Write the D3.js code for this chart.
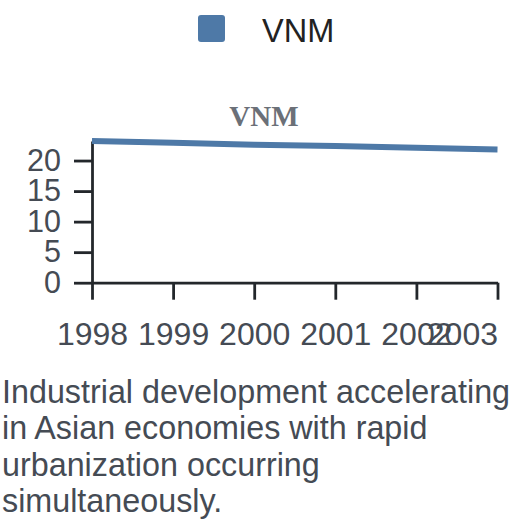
<!doctype html>
<html lang="en">
<head>
  <meta charset="utf-8">
  <title>VNM</title>
  <script src="https://cdn.jsdelivr.net/npm/d3@7"></script>
  <style>
    body { margin: 0; background: #fff; font-family: "Liberation Sans", Arial, sans-serif; }
    #chart { position: absolute; left: 0; top: 0; }
    #caption {
      position: absolute; left: 2px; top: 374px; width: 524px;
      font-size: 32.3px; line-height: 36.4px; color: #454b54;
    }
    .axis text { font-family: "Liberation Sans", Arial, sans-serif; font-size: 32px; fill: #454b54; }
    .axis.y text { font-size: 30.5px; }
    .axis path, .axis line { stroke: #23272b; stroke-width: 2.8; }
  </style>
</head>
<body>

<div id="chart"></div>
<div id="caption"></div>

<script>
// data
var country = "VNM";
var years = [1998, 1999, 2000, 2001, 2002, 2003];
var values = [23.2, 22.9, 22.6, 22.4, 22.1, 21.8];
var yTicks = [0, 5, 10, 15, 20];
var captionText = "Industrial development accelerating in Asian economies with rapid urbanization occurring simultaneously.";

var width = 528, height = 370;
var margin = {top: 141, right: 30.5, bottom: 87.3, left: 92};
var color = "#4e79a7";

var svg = d3.select("#chart").append("svg")
    .attr("width", width)
    .attr("height", height);

// legend
var legend = svg.append("g").attr("transform", "translate(198,15)");
legend.append("rect")
    .attr("width", 27).attr("height", 27)
    .attr("rx", 3).attr("ry", 3)
    .attr("fill", color);
legend.append("text")
    .attr("x", 64).attr("y", 26.5)
    .attr("font-size", 32.5)
    .attr("fill", "#222")
    .text(country);

// title
svg.append("text")
    .attr("x", width / 2).attr("y", 126)
    .attr("text-anchor", "middle")
    .attr("font-family", "'Liberation Serif', 'Times New Roman', serif")
    .attr("font-weight", "bold")
    .attr("font-size", 29)
    .attr("fill", "#6b7078")
    .text(country);

var x = d3.scaleLinear()
    .domain(d3.extent(years))
    .range([margin.left, width - margin.right]);

var y = d3.scaleLinear()
    .domain([0, d3.max(values)])
    .range([height - margin.bottom, margin.top]);

var gx = svg.append("g")
    .attr("class", "axis x")
    .attr("transform", "translate(0," + (height - margin.bottom) + ")")
    .call(d3.axisBottom(x).tickValues(years).tickFormat(d3.format("d"))
      .tickSize(17).tickSizeOuter(0).tickPadding(22.6));
gx.selectAll(".tick text")
    .attr("text-anchor", function(d, i) { return i === years.length - 1 ? "end" : "middle"; });

svg.append("g")
    .attr("class", "axis y")
    .attr("transform", "translate(" + margin.left + ",0)")
    .call(d3.axisLeft(y).tickValues(yTicks).tickSize(18).tickSizeOuter(0).tickPadding(13));

var line = d3.line()
    .x(function(d, i) { return x(years[i]); })
    .y(function(d) { return y(d); });

svg.append("path")
    .datum(values)
    .attr("fill", "none")
    .attr("stroke", color)
    .attr("stroke-width", 6)
    .attr("d", line);

d3.select("#caption").text(captionText);
</script>
</body>
</html>
